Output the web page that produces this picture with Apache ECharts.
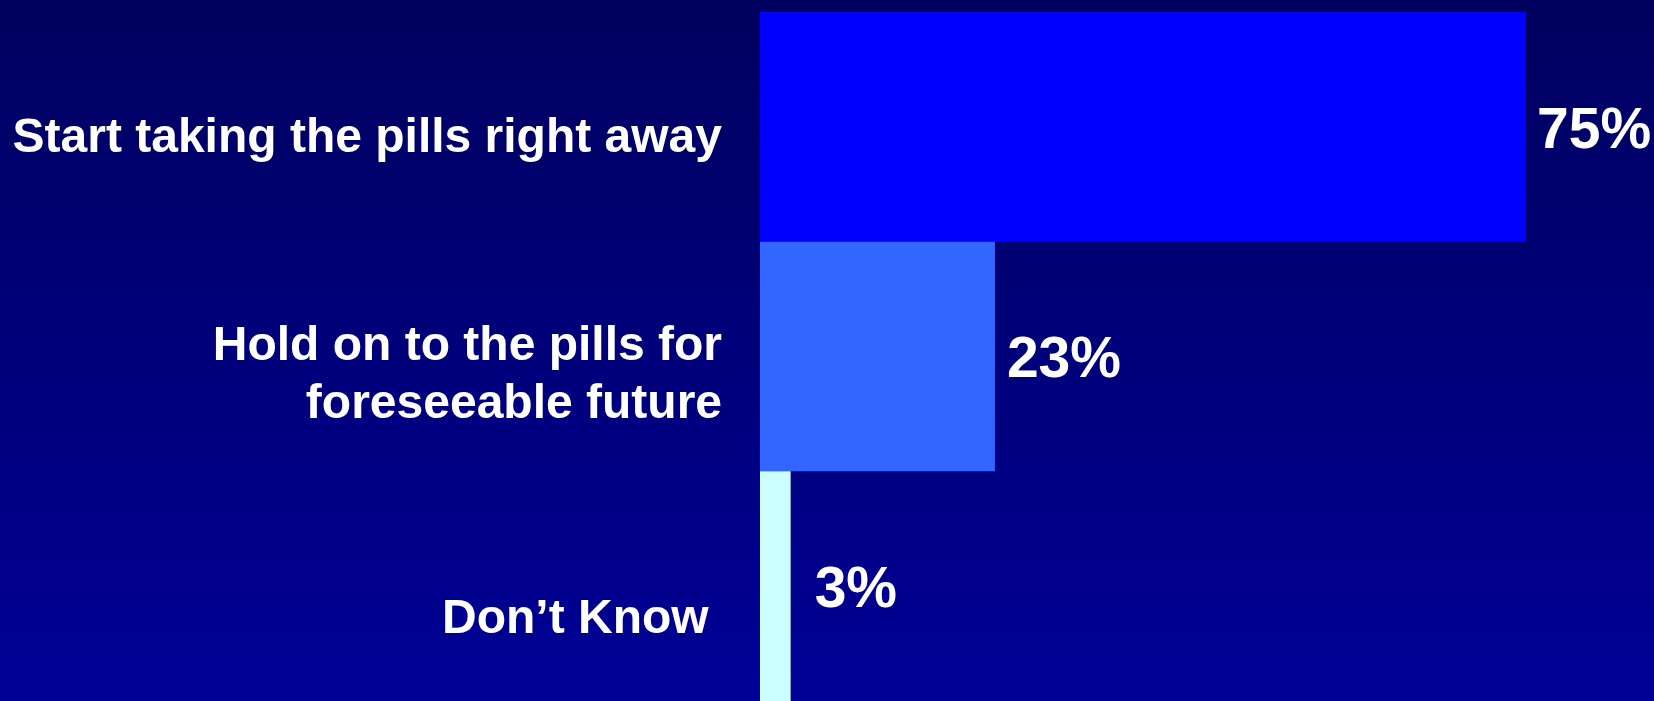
<!DOCTYPE html>
<html>
<head>
<meta charset="utf-8">
<style>
  html, body { margin: 0; padding: 0; background: #000070; }
  #chart { width: 1654px; height: 701px; }
</style>
<script src="https://cdn.jsdelivr.net/npm/echarts@6/dist/echarts.min.js"></script>
</head>
<body>
<div id="chart"></div>
<script>
// Survey answers, top to bottom
const categories = [
  'Start taking the pills right away',
  'Hold on to the pills for\nforeseeable future',
  'Don\u2019t Know '
];
const values = [75, 23, 3];
const barColors = ['#0000FF', '#3366FF', '#CCFFFF'];

// captions sit a little below their bar's centre: an empty spacer line
// of this height is stacked above each caption block
const captionSpacer = [24, 38, 68];
const valueLabelGap = [11, 12, 24];

const captionFont = {
  color: '#FFFFFF',
  fontFamily: 'Liberation Sans, Arial, sans-serif',
  fontWeight: 'bold',
  fontSize: 48,
  lineHeight: 58,
  align: 'right'
};

const rich = { t: captionFont };
captionSpacer.forEach((h, i) => {
  rich['s' + i] = { height: h, lineHeight: h, fontSize: 1, align: 'right' };
});

const chart = echarts.init(document.getElementById('chart'));

chart.setOption({
  backgroundColor: {
    type: 'linear', x: 0, y: 0, x2: 0, y2: 1,
    colorStops: [
      { offset: 0, color: '#00005F' },
      { offset: 1, color: '#000096' }
    ]
  },
  animation: false,
  grid: { left: 760, right: 128, top: 12, height: 692 },
  xAxis: {
    type: 'value', min: 0, max: 75,
    show: false
  },
  yAxis: {
    type: 'category',
    inverse: true,
    data: categories,
    axisLine: { show: false },
    axisTick: { show: false },
    splitLine: { show: false },
    axisLabel: {
      margin: 38,
      align: 'right',
      formatter: (value, index) =>
        '{s' + index + '|}\n' +
        value.split('\n').map(line => '{t|' + line + '}').join('\n'),
      rich: rich
    }
  },
  series: [{
    type: 'bar',
    barWidth: '100%',
    barCategoryGap: '0%',
    data: values.map((v, i) => ({
      value: v,
      itemStyle: { color: barColors[i] },
      label: { distance: valueLabelGap[i] }
    })),
    label: {
      show: true,
      position: 'right',
      offset: [0, 5],
      formatter: '{c}%',
      color: '#FFFFFF',
      fontFamily: 'Liberation Sans, Arial, sans-serif',
      fontWeight: 'bold',
      fontSize: 57
    }
  }]
});
</script>
</body>
</html>
